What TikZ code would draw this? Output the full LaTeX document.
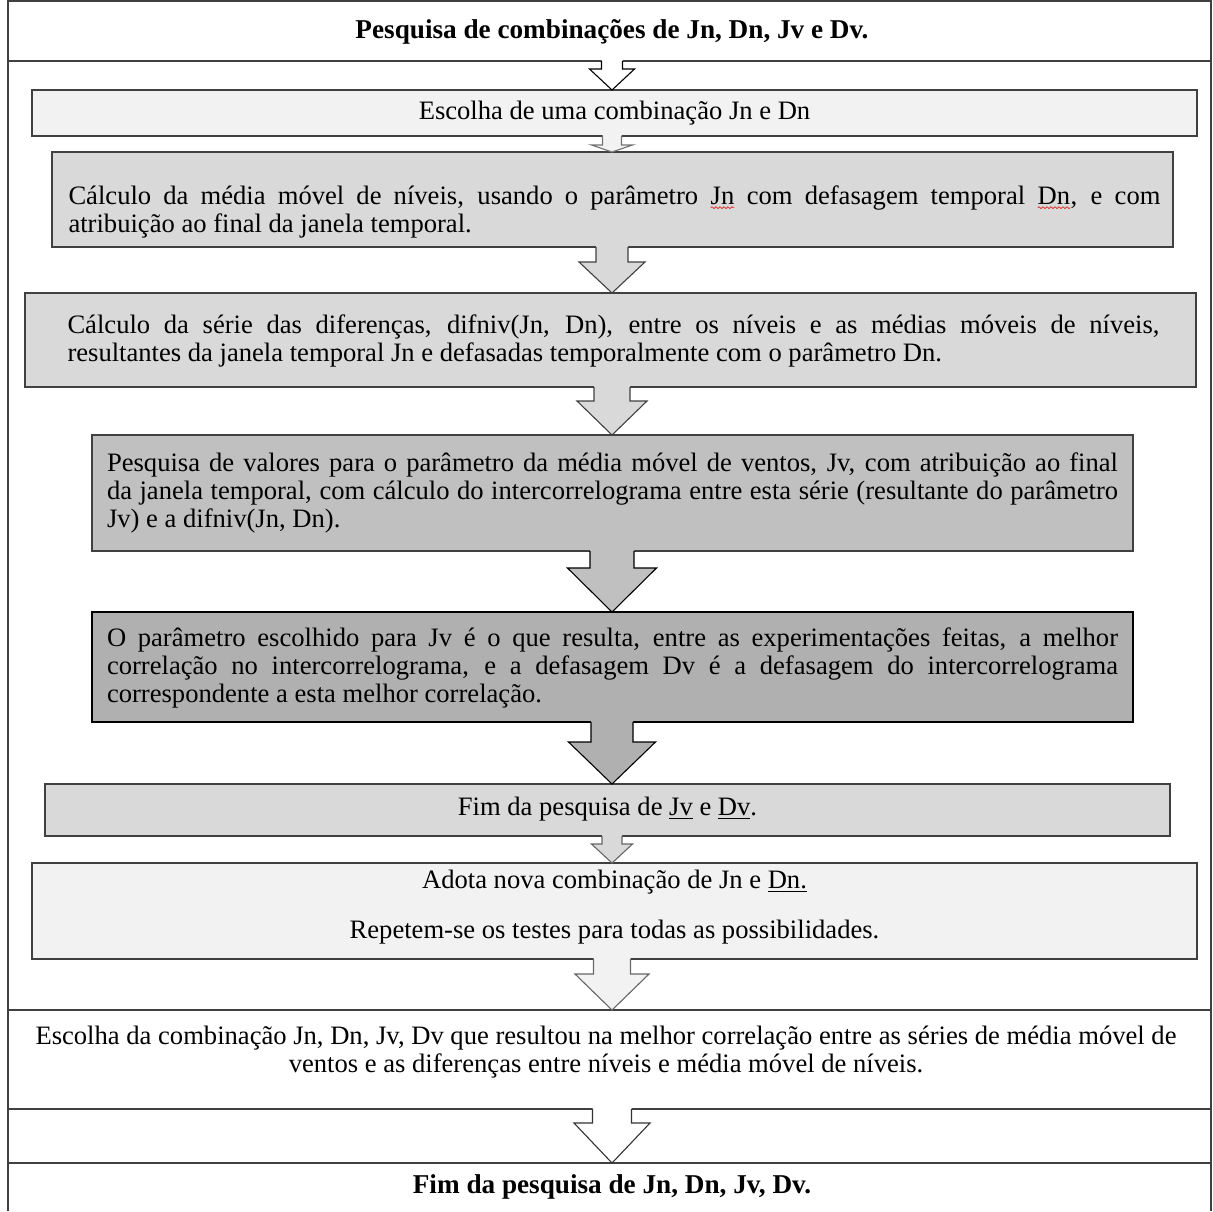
\documentclass[tikz,border=0pt]{standalone}
\usepackage{fontspec}
\setmainfont{Liberation Serif}
\usetikzlibrary{calc,decorations.pathmorphing}
\definecolor{gA}{HTML}{F2F2F2}
\definecolor{gB}{HTML}{D9D9D9}
\definecolor{gC}{HTML}{C0C0C0}
\definecolor{gD}{HTML}{B0B0B0}
\definecolor{lineC}{HTML}{404040}
\definecolor{spellred}{HTML}{E02020}
\newcommand\nsp{\spaceskip=0pt\xspaceskip=0pt\relax}
\newcommand\spl[1]{\tikz[baseline=(w.base),x=1pt,y=1pt]{\node[inner sep=0pt,outer sep=0pt] (w) {#1};
  \draw[spellred,line width=0.35pt,decorate,decoration={snake,amplitude=0.45pt,segment length=2pt}]
    ($(w.base west)+(0,-1.8pt)$) -- ($(w.base east)+(0,-1.8pt)$);}}
\newcommand\ulx[1]{\underline{#1}}
\newcommand\jl[2]{\leavevmode\hbox to #1{\nsp #2}}
\newcommand\blockarr[7]{%
  \fill[#1] let \p1=(#3), \p2=(#4) in
    (306pt-#5,\y1+0.8pt) -- (306pt-#5,\y1-#7) -- (306pt-#6,\y1-#7) -- (306pt,\y2)
    -- (306pt+#6,\y1-#7) -- (306pt+#5,\y1-#7) -- (306pt+#5,\y1+0.8pt) -- cycle;
  \draw[#2,line width=0.55pt,line join=miter] let \p1=(#3), \p2=(#4) in
    (306pt-#5,\y1) -- (306pt-#5,\y1-#7) -- (306pt-#6,\y1-#7) -- (306pt,\y2)
    -- (306pt+#6,\y1-#7) -- (306pt+#5,\y1-#7) -- (306pt+#5,\y1);
}
\begin{document}
\begin{tikzpicture}[x=0.5pt,y=-0.5pt,
  box/.style={draw=lineC, line width=0.6pt, anchor=north west, inner sep=0pt, outer sep=0pt},
  txt/.style={inner sep=0pt, font=\fontsize{13.3}{14}\selectfont, align=center},
  htxt/.style={inner sep=0pt, font=\fontsize{13.6}{14}\selectfont\bfseries, align=center},
  jtxt/.style={inner sep=0pt, font=\fontsize{13.3}{14}\selectfont, align=left},
  sepline/.style={draw=lineC, line width=0.6pt},
  frameline/.style={draw=lineC, line width=0.8pt}]
\useasboundingbox (0,0) rectangle (1213,1211);

% outer frame and separators
\draw[frameline] (8,1211) -- (8,1) -- (1211,1) -- (1211,1211);
\draw[sepline] (8,61) -- (1211,61);
\draw[sepline] (8,1010) -- (1211,1010);
\draw[sepline] (8,1109) -- (1211,1109);
\draw[sepline] (8,1163) -- (1211,1163);
\coordinate (hdrline) at (612,61);
\coordinate (sepA) at (612,1010);
\coordinate (sepB) at (612,1109);
\coordinate (sepC) at (612,1163);

% header and footer
\node[htxt] (hdr) at (612,32) {\nsp Pesquisa de combinações de Jn, Dn, Jv e Dv.};
\node[htxt] (ftr) at (612,1187) {\nsp Fim da pesquisa de Jn, Dn, Jv, Dv.};

% boxes
\node[box, fill=gA, minimum width=582.5pt, minimum height=23pt] (b1) at (32,90) {};
\node[txt] (t1) at (b1.center) {\nsp Escolha de uma combinação Jn e Dn};

\node[box, fill=gB, minimum width=560.5pt, minimum height=47.5pt] (b2) at (52,152) {};
\node[jtxt, text width=546pt] (t2) at ($(b2.center)+(2,12)$) {\nsp\jl{546pt}{Cálculo da média móvel de níveis, usando o parâmetro \spl{Jn} com defasagem temporal \spl{Dn}, e com}\\atribuição ao final da janela temporal.};

\node[box, fill=gB, minimum width=585.5pt, minimum height=47pt] (b3) at (25,293) {};
\node[jtxt, text width=546pt] (t3) at ($(b3.center)+(3,1)$) {\nsp\jl{546pt}{Cálculo da série das diferenças, difniv(Jn, Dn), entre os níveis e as médias móveis de níveis,}\\resultantes da janela temporal Jn e defasadas temporalmente com o parâmetro Dn.};

\node[box, fill=gC, minimum width=520.5pt, minimum height=58pt] (b4) at (92,435) {};
\node[jtxt, text width=505.5pt] (t4) at ($(b4.center)+(0,0)$) {\nsp\jl{505.5pt}{Pesquisa de valores para o parâmetro da média móvel de ventos, Jv, com atribuição ao final}\\\jl{505.5pt}{da janela temporal, com cálculo do intercorrelograma entre esta série (resultante do parâmetro}\\Jv) e a difniv(Jn, Dn).};

\node[box, fill=gD, draw=black, minimum width=520.5pt, minimum height=55pt] (b5) at (92,612) {};
\node[jtxt, text width=505.5pt] (t5) at ($(b5.center)+(0,1)$) {\nsp\jl{505.5pt}{O parâmetro escolhido para Jv é o que resulta, entre as experimentações feitas, a melhor}\\\jl{505.5pt}{correlação no intercorrelograma, e a defasagem Dv é a defasagem do intercorrelograma}\\correspondente a esta melhor correlação.};

\node[box, fill=gB, minimum width=562.5pt, minimum height=26pt] (b6) at (45,784) {};
\node[txt] (t6) at ($(b6.center)+(0,-1)$) {\nsp Fim da pesquisa de \ulx{Jv} e \ulx{Dv}.};

\node[box, fill=gA, minimum width=582.5pt, minimum height=48pt] (b7) at (32,863) {};
\node[txt] (t7) at ($(b7.center)+(0,-4)$) {\nsp Adota nova combinação de Jn e \ulx{Dn.}\\[11pt]Repetem-se os testes para todas as possibilidades.};

\node[txt] (t8) at (606,1052) {\nsp Escolha da combinação Jn, Dn, Jv, Dv que resultou na melhor correlação entre as séries de média móvel de\\ventos e as diferenças entre níveis e média móvel de níveis.};

% block arrows
\blockarr{white}{black}{hdrline}{b1.north}{5.25pt}{11.25pt}{4pt}
\blockarr{gA}{black!55}{b1.south}{b2.north}{4.75pt}{10.25pt}{4.5pt}
\blockarr{gB}{lineC}{b2.south}{b3.north}{8pt}{16.5pt}{7.5pt}
\blockarr{gB}{lineC}{b3.south}{b4.north}{9pt}{17.5pt}{7pt}
\blockarr{gC}{black}{b4.south}{b5.north}{11pt}{22.25pt}{8.5pt}
\blockarr{gD}{black}{b5.south}{b6.north}{10.5pt}{21.75pt}{10pt}
\blockarr{gB}{black!60}{b6.south}{b7.north}{5pt}{10.25pt}{4pt}
\blockarr{gA}{black!60}{b7.south}{sepA}{9.25pt}{18.5pt}{7.5pt}
\blockarr{white}{black!80}{sepB}{sepC}{9.75pt}{19pt}{7pt}
\end{tikzpicture}
\end{document}
